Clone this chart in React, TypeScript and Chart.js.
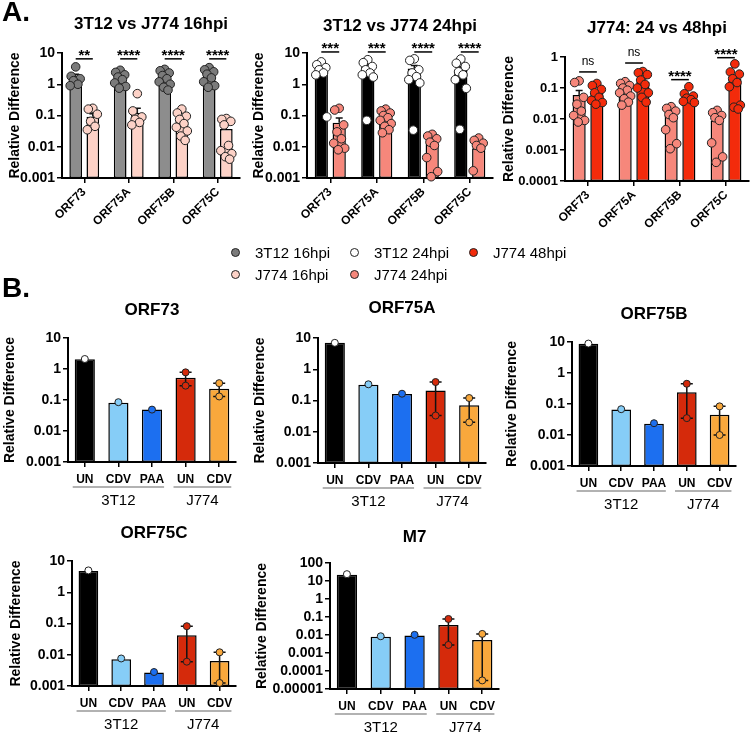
import React, { useEffect, useRef } from "react";
import { Chart, registerables } from "chart.js";

Chart.register(...registerables);

const FONT = "Arial, 'Liberation Sans', Helvetica, sans-serif";

/* ---------------- shared ---------------- */
const genes = ["ORF73", "ORF75A", "ORF75B", "ORF75C"];
const yAxisTitle = "Relative Difference";

const ticks10 = [10, 1, 0.1, 0.01, 0.001];
const tickLabels10 = ["10", "1", "0.1", "0.01", "0.001"];
const ticks1 = [1, 0.1, 0.01, 0.001, 0.0001];
const tickLabels1 = ["1", "0.1", "0.01", "0.001", "0.0001"];
const ticks100 = [100, 10, 1, 0.1, 0.01, 0.001, 0.0001, 0.00001];
const tickLabels100 = ["100", "10", "1", "0.1", "0.01", "0.001", "0.0001", "0.00001"];

/* ---------------- panel A ---------------- */
const titleA1 = "3T12 vs J774 16hpi";
const titleA2 = "3T12 vs J774 24hpi";
const titleA3 = "J774: 24 vs 48hpi";

const mean3T12_16 = [1.7, 1.7, 2.1, 2.4];
const sem3T12_16 = [0.4, 0.25, 0.25, 0.35];
const pts3T12_16 = [
  [3.6, 1.8, 1.5, 1.3, 1.0, 0.9],
  [2.8, 2.4, 2.0, 1.7, 1.4, 1.1, 0.85, 0.75],
  [3.0, 2.7, 2.3, 1.9, 1.5, 1.2, 1.0, 0.8, 0.65],
  [3.4, 2.9, 2.5, 2.1, 1.6, 1.2, 0.9, 0.8],
];
const meanJ774_16 = [0.092, 0.12, 0.067, 0.037];
const semJ774_16 = [0.022, 0.05, 0.018, 0.014];
const ptsJ774_16 = [
  [0.17, 0.16, 0.11, 0.065, 0.045, 0.035],
  [0.5, 0.14, 0.09, 0.075, 0.06, 0.05],
  [0.16, 0.12, 0.095, 0.075, 0.055, 0.042, 0.032, 0.022, 0.016],
  [0.08, 0.075, 0.065, 0.05, 0.011, 0.0075, 0.006, 0.0048, 0.004],
];
const mean3T12_24 = [2.5, 3.6, 3.2, 2.9];
const sem3T12_24 = [0.7, 0.7, 0.8, 0.7];
const pts3T12_24 = [
  [5.2, 4.2, 3.4, 2.9, 2.3, 2.0, 0.09],
  [6.1, 4.9, 3.7, 2.9, 2.3, 2.0, 1.7, 0.07],
  [6.5, 5.8, 2.9, 2.3, 1.75, 1.4, 1.1, 0.034],
  [6.4, 4.7, 3.7, 2.5, 2.0, 1.4, 0.74, 0.036],
];
const meanJ774_24 = [0.059, 0.085, 0.013, 0.009];
const semJ774_24 = [0.024, 0.013, 0.003, 0.002];
const ptsJ774_24 = [
  [0.17, 0.15, 0.05, 0.03, 0.018, 0.013, 0.009, 0.008],
  [0.16, 0.14, 0.12, 0.1, 0.085, 0.07, 0.055, 0.045, 0.035, 0.028],
  [0.025, 0.022, 0.018, 0.014, 0.011, 0.0045, 0.0016, 0.0011],
  [0.019, 0.016, 0.013, 0.011, 0.009, 0.0017, 0.0006, 0.0004],
];
const meanJ774_48 = [0.066, 0.16, 0.049, 0.2];
const semJ774_48 = [0.013, 0.035, 0.009, 0.06];
const ptsJ774_48 = [
  [0.14, 0.12, 0.09, 0.07, 0.05, 0.04, 0.034, 0.03],
  [0.34, 0.31, 0.27, 0.18, 0.13, 0.1, 0.07, 0.05, 0.035],
  [0.11, 0.065, 0.055, 0.047, 0.042, 0.037, 0.034],
  [0.6, 0.33, 0.28, 0.2, 0.15, 0.11, 0.028, 0.024, 0.021],
];

const sigA1 = ["**", "****", "****", "****"];
const sigYA1 = [6.5, 6.5, 6.5, 6.5];
const sigA2 = ["***", "***", "****", "****"];
const sigYA2 = [10.8, 10.8, 10.8, 10.8];
const sigA3 = ["ns", "ns", "****", "****"];
const sigYA3 = [0.33, 0.64, 0.186, 0.95];

const legendLabels = ["3T12 16hpi", "3T12 24hpi", "J774 48hpi", "J774 16hpi", "J774 24hpi"];

const C_GREY = "#8d8d8d";
const C_GREY_DOT = "#7b7b7b";
const C_PINK = "#fdd2c7";
const C_BLACK = "#000000";
const C_WHITE = "#ffffff";
const C_SALMON = "#f6877b";
const C_RED = "#f32b0b";
const legendColors = [C_GREY_DOT, C_WHITE, C_RED, C_PINK, C_SALMON];

/* ---------------- panel B ---------------- */
const treatments = ["UN", "CDV", "PAA", "UN", "CDV"];
const cellLines = ["3T12", "J774"];
const cellLineFirst = [0, 3];
const cellLineLast = [2, 4];
const treatColors = ["#000000", "#86cdf7", "#1c6ff0", "#d52a0b", "#f9a83c"];
const dotColors = ["#ffffff", "#86cdf7", "#1c6ff0", "#d52a0b", "#f9a83c"];

const titleB1 = "ORF73";
const titleB2 = "ORF75A";
const titleB3 = "ORF75B";
const titleB4 = "ORF75C";
const titleB5 = "M7";

const barsORF73 = [2.05, 0.082, 0.049, 0.52, 0.23];
const dotsORF73 = [[2.1], [0.085], [0.049], [0.78, 0.29], [0.35, 0.13]];
const barsORF75A = [7.0, 0.32, 0.16, 0.21, 0.07];
const dotsORF75A = [[7.0], [0.33], [0.165], [0.39, 0.033], [0.12, 0.02]];
const barsORF75B = [8.8, 0.066, 0.023, 0.24, 0.045];
const dotsORF75B = [[8.9], [0.068], [0.024], [0.45, 0.035], [0.084, 0.01]];
const barsORF75C = [4.8, 0.0072, 0.0027, 0.042, 0.0063];
const dotsORF75C = [[5.0], [0.0076], [0.0028], [0.082, 0.006], [0.012, 0.00125]];
const barsM7 = [22, 0.008, 0.0095, 0.036, 0.0053];
const dotsM7 = [[24], [0.0085], [0.0102], [0.078, 0.0028], [0.0115, 0.00003]];

/* ---------------- helpers (layout / style only) ---------------- */
const JIT_PX = [0, -4.5, 4.5, -2.2, 2.2, -5.5, 5.5, -1, 3.3, -3.3];
const CAT_PCT = 0.77;

type Geo = { w: number; h: number; yW: number; yTitlePad: number; tTop: number; tBot: number; xH: number; padR: number };

function yScale(ticks: number[], labels: string[], geo: Geo, tickSize: number) {
  const asc = ticks.slice().reverse();
  return {
    type: "logarithmic",
    position: "left",
    min: ticks[ticks.length - 1],
    max: ticks[0],
    afterBuildTicks: (s: any) => {
      s.ticks = asc.map((v) => ({ value: v }));
    },
    afterFit: (s: any) => {
      s.width = geo.yW;
    },
    ticks: {
      autoSkip: false,
      padding: 2,
      color: "#000",
      font: { family: FONT, size: tickSize, weight: "bold" },
      callback: (v: number) => labels[ticks.indexOf(v)],
    },
    grid: { drawOnChartArea: false, drawTicks: true, tickLength: 5, color: "#000", lineWidth: 1.5 },
    border: { display: true, color: "#000", width: 2 },
    title: {
      display: true,
      text: yAxisTitle,
      color: "#000",
      font: { family: FONT, size: 14, weight: "bold" },
      padding: { top: geo.yTitlePad, bottom: 0 },
    },
  };
}

function xCat(geo: Geo, rot: number, size: number, pad: number) {
  return {
    type: "category",
    position: "bottom",
    offset: true,
    afterFit: (s: any) => {
      s.height = geo.xH;
    },
    ticks: {
      autoSkip: false,
      color: "#000",
      font: { family: FONT, size, weight: "bold" },
      maxRotation: rot,
      minRotation: rot,
      padding: pad,
    },
    grid: { offset: false, drawOnChartArea: false, drawTicks: true, tickLength: 5, color: "#000", lineWidth: 1.5 },
    border: { display: true, color: "#000", width: 2 },
  };
}

function baseOptions(title: string, geo: Geo, scales: any) {
  return {
    animation: false,
    responsive: false,
    maintainAspectRatio: false,
    events: [],
    layout: { padding: { left: 0, top: 0, bottom: 0, right: geo.padR } },
    plugins: {
      legend: { display: false },
      tooltip: { enabled: false },
      title: {
        display: true,
        text: title,
        fullSize: false,
        color: "#000",
        font: { family: FONT, size: 17, weight: "bold" },
        padding: { top: geo.tTop, bottom: geo.tBot },
      },
    },
    scales,
  };
}

/* error bars drawn right after each bar dataset */
const errorBarPlugin = {
  id: "errorBars",
  afterDatasetDraw(chart: any, args: any) {
    const ds: any = chart.data.datasets[args.index];
    if (!ds.errHi) return;
    const ctx = chart.ctx;
    const y = chart.scales.y;
    const area = chart.chartArea;
    ctx.save();
    ctx.strokeStyle = "#111";
    ctx.lineWidth = 1.5;
    args.meta.data.forEach((el: any, j: number) => {
      const hi = ds.errHi[j];
      const lo = ds.errLo[j];
      if (hi == null || lo == null) return;
      const yh = y.getPixelForValue(hi);
      const yl = Math.min(y.getPixelForValue(lo), area.bottom);
      const cw = ds.capWidth / 2;
      ctx.beginPath();
      ctx.moveTo(el.x, yl);
      ctx.lineTo(el.x, yh);
      ctx.moveTo(el.x - cw, yh);
      ctx.lineTo(el.x + cw, yh);
      if (ds.capLow) {
        ctx.moveTo(el.x - cw, yl);
        ctx.lineTo(el.x + cw, yl);
      }
      ctx.stroke();
    });
    ctx.restore();
  },
};

/* individual replicate points, placed on each bar via the bar element and the y scale */
const dotsPlugin = {
  id: "dots",
  afterDatasetsDraw(chart: any) {
    const ctx = chart.ctx;
    const y = chart.scales.y;
    const area = chart.chartArea;
    ctx.save();
    chart.data.datasets.forEach((ds: any, di: number) => {
      if (!ds.dots) return;
      const meta = chart.getDatasetMeta(di);
      ds.dots.forEach((arr: number[], j: number) => {
        const el: any = meta.data[j];
        if (!el) return;
        const fill = Array.isArray(ds.dotColor) ? ds.dotColor[j] : ds.dotColor;
        arr.forEach((v, k) => {
          if (v < y.min) return;
          const px = el.x + (ds.jitter ? JIT_PX[k % JIT_PX.length] : 0);
          const py = y.getPixelForValue(v);
          if (py > area.bottom + 1) return;
          ctx.beginPath();
          ctx.arc(px, py, ds.dotRadius, 0, Math.PI * 2);
          ctx.fillStyle = fill;
          ctx.fill();
          ctx.lineWidth = 1;
          ctx.strokeStyle = "#222";
          ctx.stroke();
        });
      });
    });
    ctx.restore();
  },
};

function sigPlugin(texts: string[], ys: number[]) {
  return {
    id: "sig",
    afterDraw(chart: any) {
      const ctx = chart.ctx;
      const y = chart.scales.y;
      const m0 = chart.getDatasetMeta(0).data;
      const m1 = chart.getDatasetMeta(1).data;
      ctx.save();
      texts.forEach((t, i) => {
        const x1 = m0[i].x;
        const x2 = m1[i].x;
        const py = y.getPixelForValue(ys[i]);
        ctx.strokeStyle = "#000";
        ctx.lineWidth = 1.5;
        ctx.beginPath();
        ctx.moveTo(x1, py);
        ctx.lineTo(x2, py);
        ctx.stroke();
        ctx.fillStyle = "#000";
        ctx.textAlign = "center";
        ctx.textBaseline = "alphabetic";
        if (t === "ns") {
          ctx.font = `12px ${FONT}`;
          ctx.fillText(t, (x1 + x2) / 2, py - 7);
        } else {
          ctx.font = `bold 15px ${FONT}`;
          ctx.fillText(t, (x1 + x2) / 2, py + 1);
        }
      });
      ctx.restore();
    },
  };
}

function groupPlugin() {
  return {
    id: "groups",
    afterDraw(chart: any) {
      const ctx = chart.ctx;
      const xs = chart.scales.x;
      const bottom = chart.chartArea.bottom;
      const bw = chart.getDatasetMeta(0).data[0].width;
      ctx.save();
      cellLines.forEach((lab, g) => {
        const xl = xs.getPixelForValue(cellLineFirst[g]) - bw / 2 - 2;
        const xr = xs.getPixelForValue(cellLineLast[g]) + bw / 2 + 2;
        const y = bottom + 25;
        ctx.strokeStyle = "#666";
        ctx.lineWidth = 1.2;
        ctx.beginPath();
        ctx.moveTo(xl, y);
        ctx.lineTo(xr, y);
        ctx.stroke();
        ctx.fillStyle = "#000";
        ctx.font = `15px ${FONT}`;
        ctx.textAlign = "center";
        ctx.textBaseline = "middle";
        ctx.fillText(lab, (xl + xr) / 2, bottom + 39);
      });
      ctx.restore();
    },
  };
}

type SeriesA = { label: string; mean: number[]; sem: number[]; pts: number[][]; bar: string; dot: string };

function buildA(title: string, s1: SeriesA, s2: SeriesA, sig: string[], sigY: number[], ticks: number[], labels: string[], geo: Geo, tickSize: number) {
  const barDs = (s: SeriesA) => ({
    type: "bar",
    label: s.label,
    data: s.mean,
    backgroundColor: s.bar,
    borderColor: "#000",
    borderWidth: 1.5,
    borderSkipped: false,
    categoryPercentage: CAT_PCT,
    barPercentage: 0.74,
    errLo: s.mean,
    errHi: s.mean.map((m, i) => m + s.sem[i]),
    capWidth: 7,
    capLow: false,
    dots: s.pts,
    dotColor: s.dot,
    dotRadius: 4.3,
    jitter: true,
  });
  return {
    type: "bar",
    data: {
      labels: genes,
      datasets: [barDs(s1), barDs(s2)],
    },
    options: baseOptions(title, geo, {
      x: xCat(geo, 45, 12, 2),
      y: yScale(ticks, labels, geo, tickSize),
    }),
    plugins: [errorBarPlugin, dotsPlugin, sigPlugin(sig, sigY)],
  };
}

function buildB(title: string, bars: number[], dots: number[][], ticks: number[], labels: string[], geo: Geo, tickSize: number) {
  return {
    type: "bar",
    data: {
      labels: treatments,
      datasets: [
        {
          type: "bar",
          label: title,
          data: bars,
          backgroundColor: treatColors,
          borderColor: "#000",
          borderWidth: 1.5,
          borderSkipped: false,
          categoryPercentage: 1,
          barPercentage: 0.6,
          errLo: dots.map((d) => (d.length > 1 ? Math.min(...d) : null)),
          errHi: dots.map((d) => (d.length > 1 ? Math.max(...d) : null)),
          capWidth: 12,
          capLow: true,
          dots,
          dotColor: dotColors,
          dotRadius: 3.5,
          jitter: false,
        },
      ],
    },
    options: baseOptions(title, geo, {
      x: xCat(geo, 0, 12, 5),
      y: yScale(ticks, labels, geo, tickSize),
    }),
    plugins: [errorBarPlugin, dotsPlugin, groupPlugin()],
  };
}

function Panel({ left, top, geo, build }: { left: number; top: number; geo: Geo; build: () => any }) {
  const ref = useRef<HTMLCanvasElement>(null);
  useEffect(() => {
    const chart = new Chart(ref.current as HTMLCanvasElement, build());
    return () => chart.destroy();
  }, []);
  return (
    <canvas
      ref={ref}
      width={geo.w}
      height={geo.h}
      style={{ position: "absolute", left, top, width: geo.w, height: geo.h }}
    />
  );
}

const S_3T12_16: SeriesA = { label: legendLabels[0], mean: mean3T12_16, sem: sem3T12_16, pts: pts3T12_16, bar: C_GREY, dot: C_GREY_DOT };
const S_J774_16: SeriesA = { label: legendLabels[3], mean: meanJ774_16, sem: semJ774_16, pts: ptsJ774_16, bar: C_PINK, dot: C_PINK };
const S_3T12_24: SeriesA = { label: legendLabels[1], mean: mean3T12_24, sem: sem3T12_24, pts: pts3T12_24, bar: C_BLACK, dot: C_WHITE };
const S_J774_24: SeriesA = { label: legendLabels[4], mean: meanJ774_24, sem: semJ774_24, pts: ptsJ774_24, bar: C_SALMON, dot: C_SALMON };
const S_J774_48: SeriesA = { label: legendLabels[2], mean: meanJ774_48, sem: semJ774_48, pts: ptsJ774_48, bar: C_RED, dot: C_RED };

const gA1: Geo = { w: 245, h: 240, yW: 62, yTitlePad: 6.6, tTop: 13.8, tBot: 18.8, xH: 62, padR: 5 };
const gA2: Geo = { w: 250, h: 240, yW: 62, yTitlePad: 5.6, tTop: 15.8, tBot: 16.8, xH: 62, padR: 2 };
const gA3: Geo = { w: 255, h: 240, yW: 70, yTitlePad: 5.6, tTop: 17.8, tBot: 18.8, xH: 59, padR: 1 };
const gB1: Geo = { w: 245, h: 235, yW: 68, yTitlePad: 1.6, tTop: 19.8, tBot: 17.8, xH: 53, padR: 9 };
const gB2: Geo = { w: 250, h: 235, yW: 73, yTitlePad: 6.6, tTop: 17.8, tBot: 19.8, xH: 52, padR: 9 };
const gB3: Geo = { w: 255, h: 235, yW: 77, yTitlePad: 9.1, tTop: 23.8, tBot: 17.8, xH: 49, padR: 14 };
const gB4: Geo = { w: 245, h: 229, yW: 72, yTitlePad: 7.6, tTop: 17.8, tBot: 17.8, xH: 48, padR: 9 };
const gB5: Geo = { w: 255, h: 229, yW: 85, yTitlePad: 9.1, tTop: 21.8, tBot: 15.8, xH: 45, padR: 0 };

export default function App() {
  return (
    <div
      style={{
        position: "absolute",
        left: 0,
        top: 0,
        width: 750,
        height: 734,
        background: "#fff",
        overflow: "hidden",
        fontFamily: FONT,
      }}
    >
      <Panel left={0} top={0} geo={gA1} build={() => buildA(titleA1, S_3T12_16, S_J774_16, sigA1, sigYA1, ticks10, tickLabels10, gA1, 14)} />
      <Panel left={245} top={0} geo={gA2} build={() => buildA(titleA2, S_3T12_24, S_J774_24, sigA2, sigYA2, ticks10, tickLabels10, gA2, 14)} />
      <Panel left={495} top={0} geo={gA3} build={() => buildA(titleA3, S_J774_24, S_J774_48, sigA3, sigYA3, ticks1, tickLabels1, gA3, 13)} />

      <Panel left={0} top={280} geo={gB1} build={() => buildB(titleB1, barsORF73, dotsORF73, ticks10, tickLabels10, gB1, 14)} />
      <Panel left={245} top={280} geo={gB2} build={() => buildB(titleB2, barsORF75A, dotsORF75A, ticks10, tickLabels10, gB2, 14)} />
      <Panel left={495} top={280} geo={gB3} build={() => buildB(titleB3, barsORF75B, dotsORF75B, ticks10, tickLabels10, gB3, 14)} />
      <Panel left={0} top={505} geo={gB4} build={() => buildB(titleB4, barsORF75C, dotsORF75C, ticks10, tickLabels10, gB4, 14)} />
      <Panel left={245} top={505} geo={gB5} build={() => buildB(titleB5, barsM7, dotsM7, ticks100, tickLabels100, gB5, 14)} />

      <div style={{ position: "absolute", left: 2, top: -2, fontSize: 28, fontWeight: "bold", lineHeight: "28px" }}>A.</div>
      <div style={{ position: "absolute", left: 2, top: 274, fontSize: 28, fontWeight: "bold", lineHeight: "28px" }}>B.</div>

      <div
        style={{
          position: "absolute",
          left: 231,
          top: 241,
          display: "grid",
          gridTemplateColumns: "119px 119px 119px",
          gridAutoRows: "22px",
        }}
      >
        {legendLabels.map((lab, i) => (
          <div key={lab} style={{ display: "flex", alignItems: "center", height: 22, fontSize: 15, color: "#000" }}>
            <span
              style={{
                display: "inline-block",
                width: 7,
                height: 7,
                borderRadius: "50%",
                background: legendColors[i],
                border: "1px solid #222",
                marginRight: 15,
                flex: "none",
              }}
            />
            <span>{lab}</span>
          </div>
        ))}
      </div>
    </div>
  );
}
